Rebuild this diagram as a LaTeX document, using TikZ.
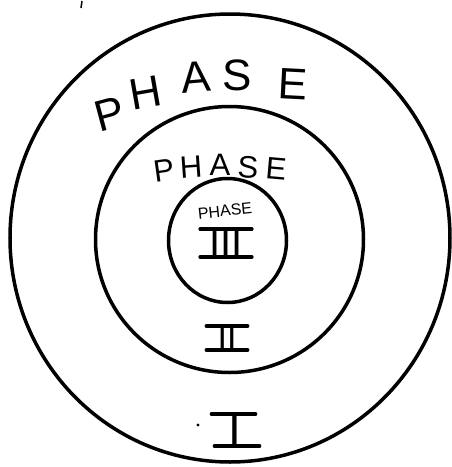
\documentclass[tikz,border=0pt]{standalone}
\usepackage{fontspec}
\setmainfont{Liberation Sans}
\begin{document}
\begin{tikzpicture}[x=1pt,y=-1pt,
  ring/.style={line width=3.5pt, line cap=round},
  outerletter/.style={inner sep=0pt, font=\fontsize{44}{44}\selectfont},
  midletter/.style={inner sep=0pt, font=\fontsize{31}{31}\selectfont},
  smalltext/.style={inner sep=0pt, font=\fontsize{16}{16}\selectfont},
  numeral/.style={inner sep=0pt},
  bar/.style={line width=3.5pt, line cap=round}]
\useasboundingbox (0,0) rectangle (451,467);
% rings
\draw[ring] (230,238) ellipse [x radius=220, y radius=224];
\draw[ring] (229.5,239.5) ellipse [x radius=134, y radius=133];
\draw[ring] (227.5,240.5) ellipse [x radius=59, y radius=62];
% small mark at top
\coordinate (m1) at (82,1);
\coordinate (m2) at (81,8);
\draw[line width=1.5pt] (m1) -- (m2);
% outer PHASE
\node[outerletter, rotate=15] (o1) at (110,114) {P};
\node[outerletter, rotate=10] (o2) at (146,93) {H};
\node[outerletter, rotate=5] (o3) at (196,77) {A};
\node[outerletter] (o4) at (237,75) {S};
\node[outerletter, rotate=-3] (o5) at (293,84) {E};
% middle PHASE
\node[midletter, rotate=8] (m1l) at (164,170) {P};
\node[midletter, rotate=4] (m2l) at (191,167) {H};
\node[midletter] (m3l) at (220,165) {A};
\node[midletter, rotate=-3] (m4l) at (248,167) {S};
\node[midletter, rotate=-5] (m5l) at (276,169) {E};
% inner PHASE
\node[smalltext, rotate=6] (ip) at (225,211) {PHASE};
% III
\node[numeral, font=\fontsize{40}{40}\selectfont] (n3) at (226,243) {III};
\draw[bar] ([xshift=-9]n3.north west) -- ([xshift=9]n3.north east);
\draw[bar] ([xshift=-9]n3.south west) -- ([xshift=9]n3.south east);
% II
\node[numeral, font=\fontsize{34}{34}\selectfont] (n2) at (227,338) {II};
\draw[bar] ([xshift=-11]n2.north west) -- ([xshift=11]n2.north east);
\draw[bar] ([xshift=-11]n2.south west) -- ([xshift=11]n2.south east);
% I
\node[numeral, font=\fontsize{46}{46}\selectfont] (n1) at (235,430) {I};
\draw[bar] ([xshift=-17]n1.north west) -- ([xshift=14]n1.north east);
\draw[bar] ([xshift=-14]n1.south west) -- ([xshift=18]n1.south east);
\node[circle, fill, inner sep=1.2pt] (dot) at (198,425) {};
\end{tikzpicture}
\end{document}
